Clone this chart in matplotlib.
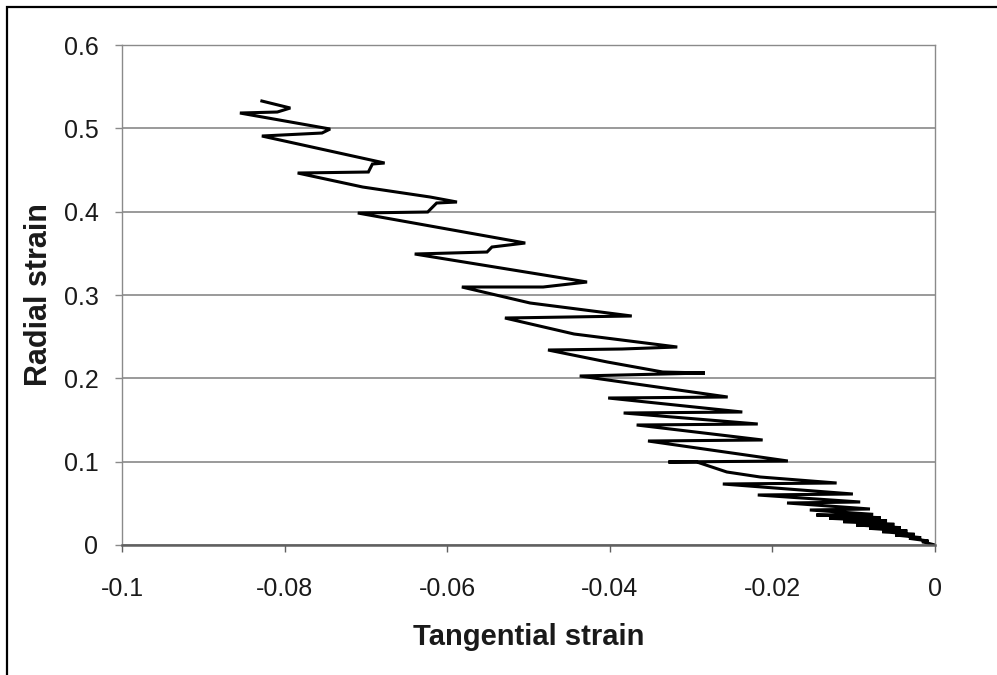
import matplotlib
matplotlib.use('Agg')
import matplotlib.pyplot as plt
from matplotlib.patches import Rectangle

plt.rcParams['font.family'] = ['Liberation Sans', 'DejaVu Sans']

# strain path, from the origin up to the last point
tangential_strain = [
    0.0,
    -0.0016, -0.0008, -0.0032, -0.0017, -0.0049, -0.0025, -0.0065, -0.0034,
    -0.0081, -0.0042, -0.0097, -0.0050, -0.0113, -0.0059, -0.0130, -0.0067,
    -0.0146, -0.0076,
    -0.0154, -0.0080, -0.0182, -0.0092, -0.0218, -0.0101, -0.0261, -0.0121,
    -0.0215, -0.0256, -0.0293,
    -0.0328, -0.0181, -0.0353, -0.0212, -0.0367, -0.0218, -0.0383, -0.0237,
    -0.0402, -0.0255, -0.0437, -0.0283,
    -0.0335, -0.0403,
    -0.0476, -0.0385, -0.0317,
    -0.0444,
    -0.0529, -0.0373,
    -0.0498,
    -0.0582, -0.0482, -0.0428,
    -0.0640, -0.0551, -0.0545, -0.0504,
    -0.0710, -0.0624, -0.0613, -0.0588,
    -0.0621, -0.0704,
    -0.0784, -0.0697, -0.0692, -0.0677,
    -0.0828, -0.0754, -0.0744,
    -0.0855, -0.0809, -0.0793,
    -0.0828,
]
radial_strain = [
    0.0,
    0.0040, 0.0048, 0.0080, 0.0088, 0.0120, 0.0128, 0.0160, 0.0168,
    0.0200, 0.0208, 0.0240, 0.0248, 0.0280, 0.0288, 0.0320, 0.0328,
    0.0360, 0.0368,
    0.0420, 0.0432, 0.0504, 0.0516, 0.0600, 0.0612, 0.0732, 0.0744,
    0.0816, 0.0876, 0.0996,
    0.0996, 0.1008, 0.1248, 0.1260, 0.1440, 0.1452, 0.1584, 0.1596,
    0.1764, 0.1776, 0.2028, 0.2064,
    0.2076, 0.2196,
    0.2340, 0.2352, 0.2376,
    0.2532,
    0.2724, 0.2748,
    0.2904,
    0.3096, 0.3096, 0.3156,
    0.3492, 0.3516, 0.3576, 0.3624,
    0.3984, 0.3996, 0.4104, 0.4116,
    0.4176, 0.4296,
    0.4464, 0.4476, 0.4572, 0.4584,
    0.4908, 0.4944, 0.4992,
    0.5184, 0.5196, 0.5244,
    0.5328,
]

x_ticks = [-0.1, -0.08, -0.06, -0.04, -0.02, 0]
x_tick_labels = ['-0.1', '-0.08', '-0.06', '-0.04', '-0.02', '0']
y_ticks = [0, 0.1, 0.2, 0.3, 0.4, 0.5, 0.6]
y_tick_labels = ['0', '0.1', '0.2', '0.3', '0.4', '0.5', '0.6']

fig = plt.figure(figsize=(9.97, 6.75), dpi=100)
ax = fig.add_axes([0.1224, 0.1926, 0.8154, 0.7407])

# frame round the whole picture (only left and top edges show)
fig.patches.append(Rectangle((7 / 997, -0.1), 1.2, 1.1 - 7 / 675, transform=fig.transFigure,
                             fill=False, edgecolor='black', linewidth=1.6))

ax.plot(tangential_strain, radial_strain, color='black', linewidth=2.2, solid_joinstyle='miter')

ax.set_xlim(-0.1, 0)
ax.set_ylim(0, 0.6)
ax.set_xticks(x_ticks)
ax.set_xticklabels(x_tick_labels)
ax.set_yticks(y_ticks)
ax.set_yticklabels(y_tick_labels)

ax.yaxis.grid(True, color='#9a9a9a', linewidth=1.4)
ax.set_axisbelow(True)
for side in ['left', 'right', 'top']:
    ax.spines[side].set_color('#8a8a8a')
    ax.spines[side].set_linewidth(1.0)
ax.spines['bottom'].set_color('#606060')
ax.spines['bottom'].set_linewidth(1.8)

ax.tick_params(axis='x', direction='out', length=5, width=1.0, color='#606060',
               pad=18, labelsize=18, labelcolor='#1a1a1a')
ax.tick_params(axis='y', direction='out', length=5, width=1.0, color='#8a8a8a',
               pad=12, labelsize=18, labelcolor='#1a1a1a')

ax.set_xlabel('Tangential strain', fontsize=21, fontweight='bold', color='#1a1a1a', labelpad=16)
ax.set_ylabel('Radial strain', fontsize=22, fontweight='bold', color='#1a1a1a', labelpad=7)

fig.savefig('out.png', dpi=100)
